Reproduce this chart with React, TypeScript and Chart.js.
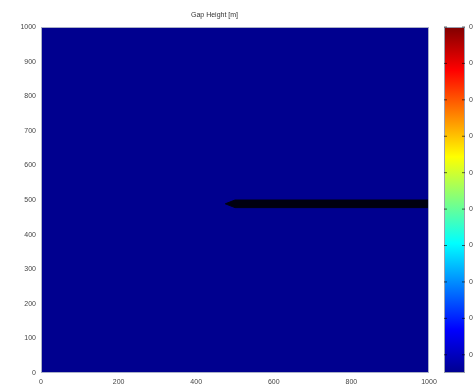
import React, { useEffect, useRef } from "react";
import { Chart, registerables } from "chart.js";

Chart.register(...registerables);

// Domain of the gap-height field (metres)
const domainX = [0, 1000];
const domainTop = [1000, 1000];

// Crack (fracture) outline: upper and lower edges
const crackX = [475, 500, 1000];
const crackUpper = [489, 500, 500];
const crackLower = [489, 478, 478];

// Axis ticks
const xTicks = [0, 200, 400, 600, 800, 1000];
const yTicks = [0, 100, 200, 300, 400, 500, 600, 700, 800, 900, 1000];

// Colorbar range and ticks
const cbMin = 0;
const cbMax = 0.0095;
const cbTicks = [0.0005, 0.0015, 0.0025, 0.0035, 0.0045, 0.0055, 0.0065, 0.0075, 0.0085, 0.0095];

const TITLE = "Gap Height [m]";
const FIELD_COLOR = "rgb(0,0,143)";
const CRACK_COLOR = "#000010";
const FONT = "'Liberation Sans', Arial, sans-serif";

const jetStops: [number, string][] = [
  [0, "rgb(0,0,143)"],
  [0.125, "rgb(0,0,255)"],
  [0.375, "rgb(0,255,255)"],
  [0.625, "rgb(255,255,0)"],
  [0.875, "rgb(255,0,0)"],
  [1, "rgb(128,0,0)"],
];

const colorbarPlugin = {
  id: "colorbar",
  afterDraw(chart: any) {
    const { ctx, chartArea } = chart;
    const x0 = chartArea.right + 15;
    const w = 21;
    const top = chartArea.top;
    const bottom = chartArea.bottom;
    ctx.save();
    const g = ctx.createLinearGradient(0, bottom, 0, top);
    jetStops.forEach(([p, c]) => g.addColorStop(p, c));
    ctx.fillStyle = g;
    ctx.fillRect(x0, top, w, bottom - top);
    ctx.strokeStyle = "#9aa0b0";
    ctx.lineWidth = 1;
    ctx.strokeRect(x0 + 0.5, top + 0.5, w - 1, bottom - top - 1);
    ctx.font = `7px ${FONT}`;
    ctx.fillStyle = "#444";
    ctx.textAlign = "left";
    ctx.textBaseline = "middle";
    cbTicks.forEach((t) => {
      const y = bottom - ((t - cbMin) / (cbMax - cbMin)) * (bottom - top);
      ctx.strokeStyle = "rgba(0,0,0,0.6)";
      ctx.beginPath();
      ctx.moveTo(x0, y);
      ctx.lineTo(x0 + 3, y);
      ctx.moveTo(x0 + w - 3, y);
      ctx.lineTo(x0 + w, y);
      ctx.stroke();
      ctx.fillText(String(t), x0 + w + 4, y);
    });
    // plot box
    ctx.strokeStyle = "#aab0c8";
    ctx.strokeRect(
      chartArea.left + 0.5,
      chartArea.top + 0.5,
      chartArea.right - chartArea.left - 1,
      chartArea.bottom - chartArea.top - 1
    );
    ctx.restore();
  },
};

export default function App() {
  const ref = useRef<HTMLCanvasElement>(null);
  useEffect(() => {
    if (!ref.current) return;
    const chart = new Chart(ref.current, {
      type: "scatter",
      data: {
        datasets: [
          {
            data: domainX.map((x, i) => ({ x, y: domainTop[i] })),
            showLine: true,
            fill: "origin",
            backgroundColor: FIELD_COLOR,
            borderWidth: 0,
            pointRadius: 0,
            order: 10,
          } as any,
          {
            data: crackX.map((x, i) => ({ x, y: crackUpper[i] })),
            showLine: true,
            fill: "+1",
            backgroundColor: CRACK_COLOR,
            borderColor: CRACK_COLOR,
            borderWidth: 1,
            pointRadius: 0,
            order: 1,
          } as any,
          {
            data: crackX.map((x, i) => ({ x, y: crackLower[i] })),
            showLine: true,
            fill: false,
            borderColor: CRACK_COLOR,
            borderWidth: 1,
            pointRadius: 0,
            order: 0,
          } as any,
        ],
      },
      options: {
        responsive: false,
        animation: false,
        layout: { padding: { left: 0, right: 44, top: 0, bottom: 0 } },
        plugins: {
          legend: { display: false },
          tooltip: { enabled: false },
          title: {
            display: true,
            text: TITLE,
            color: "#333",
            font: { family: FONT, size: 7, weight: "normal" as any, lineHeight: 1.2 },
            padding: { top: 11, bottom: 7.6 },
          },
        },
        scales: {
          x: {
            type: "linear",
            min: 0,
            max: 1000,
            afterBuildTicks: (s: any) => {
              s.ticks = xTicks.map((v) => ({ value: v }));
            },
            afterFit: (s: any) => {
              s.height = 14;
            },
            grid: { display: false, drawTicks: false },
            border: { display: false },
            ticks: {
              color: "#444",
              font: { family: FONT, size: 7 },
              padding: 5,
              maxRotation: 0,
              callback: (v: any) => String(v),
            },
          },
          y: {
            type: "linear",
            min: 0,
            max: 1000,
            afterBuildTicks: (s: any) => {
              s.ticks = yTicks.map((v) => ({ value: v }));
            },
            afterFit: (s: any) => {
              s.width = 41;
            },
            grid: { display: false, drawTicks: false },
            border: { display: false },
            ticks: {
              color: "#444",
              font: { family: FONT, size: 7 },
              padding: 5,
              callback: (v: any) => String(v),
            },
          },
        },
      },
      plugins: [colorbarPlugin],
    });
    return () => chart.destroy();
  }, []);
  return (
    <div style={{ position: "fixed", left: 0, top: 0, width: 473, height: 387, background: "#fff" }}>
      <canvas ref={ref} width={473} height={387} />
    </div>
  );
}
